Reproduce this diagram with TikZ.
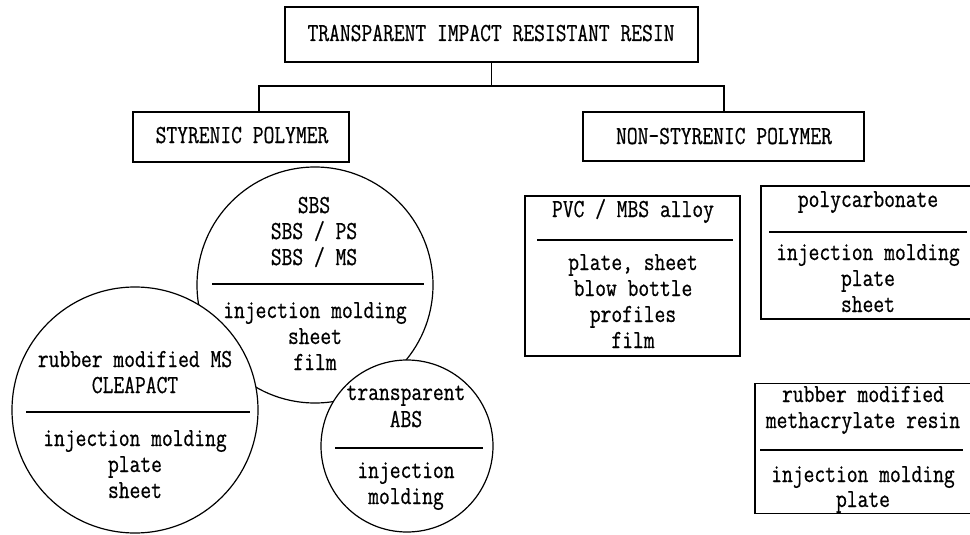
\documentclass[tikz,border=0pt]{standalone}
\usepackage{fontspec}
\setmainfont{Latin Modern Mono}[FakeStretch=0.806,FakeBold=0.6]
\begin{document}
\begin{tikzpicture}[x=1pt,y=-1pt,
  ln/.style={line width=1.2pt},
  boxn/.style={draw,ln,rectangle,inner sep=0pt,fill=white},
  circn/.style={draw,ln,circle,inner sep=0pt,fill=white},
  txt/.style={anchor=base,inner sep=0pt,font=\fontsize{26}{26}\selectfont}]
\useasboundingbox (0,0) rectangle (970,535);
\clip (0,0) rectangle (970,535);
% top level boxes
\node[boxn,minimum width=413pt,minimum height=55pt] (tb) at (491.5,34.5) {};
\node[boxn,minimum width=216pt,minimum height=50pt] (sty) at (241,137) {};
\node[boxn,minimum width=281pt,minimum height=49pt] (non) at (723.5,136.5) {};
\coordinate (jl) at (259,86);
\coordinate (jr) at (724,86);
\draw[ln] (tb.south) -- (tb.south |- jl);
\draw[ln] (jl |- sty.north) -- (jl) -- (jr) -- (jr |- non.north);
\node[txt] (tbt) at (491,41) {TRANSPARENT IMPACT RESISTANT RESIN};
\node[txt] (styt) at (242,143) {STYRENIC POLYMER};
\node[txt] (nont) at (724,144) {NON-STYRENIC POLYMER};
% circles
\node[circn,minimum size=236pt] (sbs) at (315,285) {};
\node[circn,minimum size=246pt] (rub) at (135,410) {};
\node[circn,minimum size=172pt] (abs) at (407,446) {};
\draw[ln] (212,284) -- (424,284);
\draw[ln] (26,412) -- (250,412);
\draw[ln] (335,448) -- (483,448);
\node[txt] (s1) at (314,213) {SBS};
\node[txt] (s2) at (314,239) {SBS / PS};
\node[txt] (s3) at (314,265) {SBS / MS};
\node[txt] (s4) at (315,318) {injection molding};
\node[txt] (s5) at (315,344) {sheet};
\node[txt] (s6) at (315,370) {film};
\node[txt] (r1) at (135,367) {rubber modified MS};
\node[txt] (r2) at (135,393) {CLEAPACT};
\node[txt] (r3) at (135,446) {injection molding};
\node[txt] (r4) at (135,472) {plate};
\node[txt] (r5) at (135,498) {sheet};
\node[txt] (a1) at (406,400) {transparent};
\node[txt] (a2) at (406,427) {ABS};
\node[txt] (a3) at (406,478) {injection};
\node[txt] (a4) at (406,504) {molding};
% right boxes
\node[boxn,minimum width=215pt,minimum height=160pt] (pvc) at (632.5,276) {};
\draw[ln] (537,240) -- (733,240);
\node[txt] (p1) at (633,217) {PVC / MBS alloy};
\node[txt] (p2) at (633,270) {plate, sheet};
\node[txt] (p3) at (633,296) {blow bottle};
\node[txt] (p4) at (633,322) {profiles};
\node[txt] (p5) at (633,348) {film};
\node[boxn,minimum width=215pt,minimum height=133pt] (pc) at (868.5,252.5) {};
\draw[ln] (769,232) -- (967,232);
\node[txt] (c1) at (868,207) {polycarbonate};
\node[txt] (c2) at (868,260) {injection molding};
\node[txt] (c3) at (868,286) {plate};
\node[txt] (c4) at (868,312) {sheet};
\node[boxn,minimum width=217pt,minimum height=130pt] (mr) at (863.5,448.5) {};
\draw[ln] (760,450) -- (963,450);
\node[txt] (m1) at (863,402) {rubber modified};
\node[txt] (m2) at (863,428) {methacrylate resin};
\node[txt] (m3) at (863,482) {injection molding};
\node[txt] (m4) at (863,507) {plate};
\end{tikzpicture}
\end{document}
